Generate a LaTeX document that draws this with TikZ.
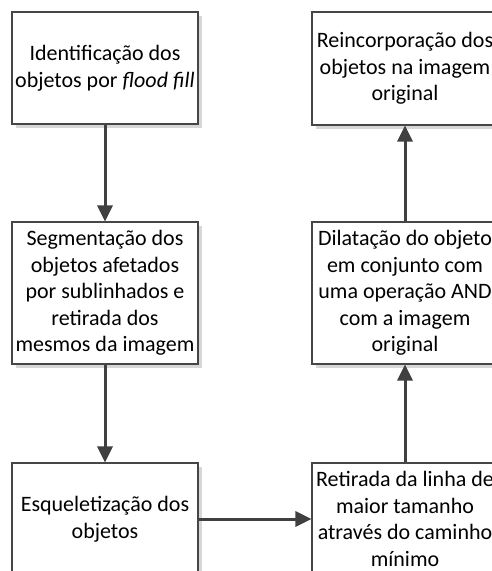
\documentclass[tikz,border=0pt]{standalone}
\usepackage{fontspec}
\setmainfont{Carlito}
\usetikzlibrary{arrows.meta,shadows}
\definecolor{boxline}{RGB}{70,70,70}
\definecolor{arrowcol}{RGB}{64,64,64}
\definecolor{shadowcol}{RGB}{215,215,215}
\begin{document}
\begin{tikzpicture}[x=1pt,y=1pt,
  stepbox/.style={draw=boxline, line width=1.1pt, fill=white,
    minimum width=186pt, align=center, inner sep=0pt,
    font=\fontsize{22}{26.5}\selectfont,
    general shadow={fill=shadowcol, shadow xshift=4pt, shadow yshift=-4pt}},
  arr/.style={draw=arrowcol, line width=3pt, -{Triangle[width=15pt,length=16pt]}}]
\useasboundingbox (0,0) rectangle (492,-571);
\clip (0,0) rectangle (492,-571);
\node[stepbox, minimum height=112pt] (b1) at (105,-68) {Identificação dos\\objetos por \textit{flood fill}};
\node[stepbox, minimum height=113pt] (b2) at (405,-68.5) {Reincorporação dos\\objetos na imagem\\original};
\node[stepbox, minimum height=142pt] (b3) at (105,-293) {Segmentação dos\\objetos afetados\\por sublinhados e\\retirada dos\\mesmos da imagem};
\node[stepbox, minimum height=142pt] (b4) at (405,-293) {Dilatação do objeto\\em conjunto com\\uma operação AND\\com a imagem\\original};
\node[stepbox, minimum height=112pt] (b5) at (105,-519) {Esqueletização dos\\objetos};
\node[stepbox, minimum height=112pt] (b6) at (405,-519) {Retirada da linha de\\maior tamanho\\através do caminho\\mínimo};
\draw[arr] (b1.south) -- (b3.north);
\draw[arr] (b3.south) -- (b5.north);
\draw[arr] (b5.east) -- (b6.west);
\draw[arr] (b6.north) -- (b4.south);
\draw[arr] (b4.north) -- (b2.south);
\end{tikzpicture}
\end{document}
